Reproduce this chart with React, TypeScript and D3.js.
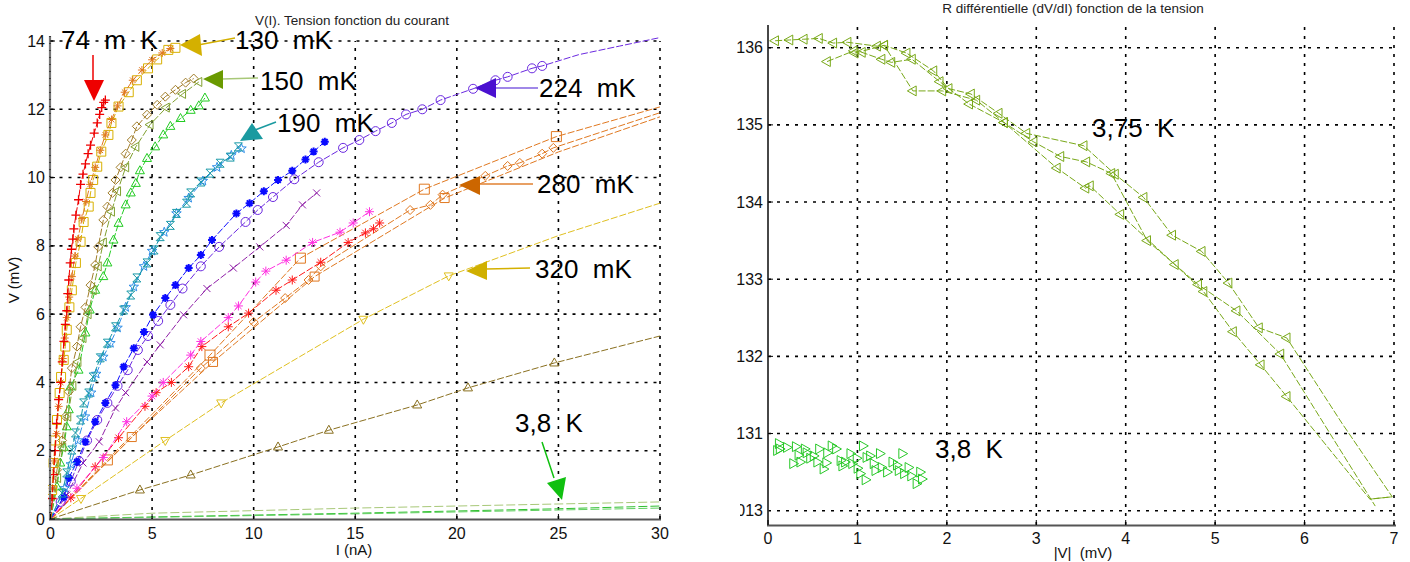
import React from 'react';
import * as d3 from 'd3';

type P = [number, number];

// ---------- LEFT CHART DATA : I (nA), V (mV) ----------
const xTicksL = [0, 5, 10, 15, 20, 25, 30];
const yTicksL = [0, 2, 4, 6, 8, 10, 12, 14];

const s74: P[] = [[0.08,0.6],[0.15,1.3],[0.22,2],[0.3,2.8],[0.4,3.5],[0.5,4],[0.58,4.6],[0.66,5.2],[0.73,5.7],[0.8,6.1],[0.85,6.6],[0.9,7],[0.97,7.5],[1.03,7.9],[1.1,8.2],[1.15,8.5],[1.25,8.9],[1.38,9.35],[1.48,9.8],[1.6,10.1],[1.72,10.4],[1.85,10.7],[1.97,10.95],[2.15,11.3],[2.3,11.6],[2.42,11.85],[2.52,12.05],[2.62,12.2],[2.7,12.27]];
const s130sq: P[] = [[0.08,0.85],[0.15,1.64],[0.23,2.3],[0.32,2.9],[0.45,3.69],[0.52,4.16],[0.65,4.66],[0.73,5.05],[0.8,5.54],[0.93,6.2],[1.05,6.7],[1.25,7.5],[1.48,8.12],[1.63,8.7],[1.88,9.15],[1.97,9.55],[2.1,9.93],[2.3,10.32],[2.5,10.76],[2.85,11.25],[3.0,11.6],[3.35,12.08],[3.85,12.5],[4.25,12.85],[4.8,13.2],[5.25,13.46],[5.8,13.74],[6.15,13.8]];
const s130st: P[] = [[0.1,0.9],[0.2,1.7],[0.3,2.5],[0.4,3.3],[0.5,4.0],[0.6,4.7],[0.7,5.3],[0.8,5.9],[0.92,6.5],[1.05,7.1],[1.2,7.7],[1.35,8.2],[1.55,8.8],[1.75,9.3],[1.95,9.8],[2.2,10.3],[2.45,10.8],[2.7,11.25],[3.0,11.7],[3.3,12.1],[3.65,12.5],[4.05,12.85],[4.5,13.15],[5.0,13.45],[5.5,13.65],[5.9,13.78]];
const s150dia: P[] = [[0.32,1.44],[0.57,2.3],[0.73,3.0],[0.9,3.73],[1.05,4.42],[1.3,5.05],[1.48,5.63],[1.72,6.2],[1.97,6.85],[2.2,7.44],[2.35,7.97],[2.6,8.76],[2.8,9.15],[3.05,9.55],[3.2,9.93],[3.45,10.3],[3.7,10.7],[4.0,11.1],[4.25,11.5],[4.75,11.84],[5.25,12.13],[5.65,12.37],[6.15,12.57],[6.65,12.78],[7.05,12.9]];
const s150tri: P[] = [[0.35,1.2],[0.6,2.1],[0.85,3.0],[1.1,3.9],[1.35,4.6],[1.6,5.3],[1.85,6.0],[2.1,6.7],[2.35,7.4],[2.6,8.1],[3.0,9.0],[3.3,9.6],[3.7,10.3],[4.2,10.9],[4.9,11.55],[5.7,12.05],[6.5,12.45],[7.3,12.8]];
const sGreen: P[] = [[0.32,0.94],[0.48,1.64],[0.65,2.1],[0.8,2.7],[0.9,3.2],[0.98,3.87],[1.38,4.36],[1.72,5.45],[1.93,6.12],[2.2,6.7],[2.6,7.1],[2.8,7.5],[3.1,8.17],[3.35,8.66],[3.7,9.2],[3.95,9.55],[4.2,9.83],[4.4,10.2],[4.75,10.56],[5.15,10.9],[5.55,11.25],[5.9,11.5],[6.4,11.73],[6.9,11.97],[7.3,12.1],[7.6,12.33]];
const s190teal: P[] = [[0.57,0.76],[0.8,1.35],[1.05,2.02],[1.23,2.52],[1.48,2.9],[1.63,3.4],[1.88,3.69],[2.1,4.16],[2.45,4.72],[2.8,5.15],[3.2,5.63],[3.6,6.12],[3.95,6.56],[4.25,7.06],[4.75,7.5],[5.1,7.88],[5.4,8.27],[5.9,8.6],[6.2,8.95],[6.7,9.25],[6.9,9.55],[7.4,9.87],[7.85,10.13],[8.35,10.42],[8.85,10.6],[9.25,10.9]];
const s190blue: P[] = [[0.7,0.9],[1.0,1.6],[1.35,2.3],[1.7,3.0],[2.0,3.7],[2.25,4.25],[2.6,4.75],[2.95,5.15],[3.3,5.6],[3.7,6.2],[4.1,6.8],[4.6,7.4],[5.0,7.85],[5.6,8.4],[6.2,8.95],[6.8,9.4],[7.5,9.9],[8.2,10.3],[8.9,10.65],[9.4,10.85]];
const sBlue: P[] = [[0.65,0.64],[0.9,1.2],[1.3,1.67],[1.72,2.26],[2.2,2.85],[2.7,3.4],[3.2,3.92],[3.6,4.46],[4.1,5.0],[4.6,5.48],[5.05,5.98],[5.65,6.47],[6.15,6.85],[6.8,7.35],[7.4,7.73],[7.95,8.17],[9.15,8.95],[9.8,9.25],[10.5,9.6],[11.2,9.93],[11.9,10.2],[12.55,10.53],[12.95,10.76],[13.5,11.05]];
const s224: P[] = [[0.5,0.5],[1.0,1.1],[1.4,1.7],[1.8,2.3],[2.3,2.9],[2.8,3.4],[3.3,3.9],[3.8,4.36],[4.3,4.95],[4.8,5.36],[5.3,5.8],[5.9,6.27],[6.5,6.75],[7.4,7.4],[8.3,7.97],[9.6,8.7],[10.2,9.05],[10.95,9.43],[12.0,9.95],[13.2,10.45],[14.4,10.87],[15.2,11.1],[16.0,11.36],[16.8,11.6],[17.5,11.85],[18.3,12.0],[19.2,12.27],[20.8,12.6],[21.9,12.85],[22.5,12.95],[23.7,13.2],[24.2,13.27]];
const s224tail: P[] = [[26,13.6],[28,13.85],[30,14.1]];
const sPurpleX: P[] = [[0.8,0.7],[1.6,1.64],[2.4,2.26],[3.2,3.25],[3.7,3.7],[4.75,4.6],[5.4,5.1],[6.55,5.98],[7.7,6.75],[9.0,7.35],[10.3,7.97],[11.6,8.6],[12.4,9.2],[13.1,9.55]];
const sMagenta: P[] = [[1.3,0.9],[2.6,1.8],[3.75,2.85],[5.0,3.6],[5.55,4.0],[6.9,4.8],[7.4,5.2],[8.75,5.9],[9.25,6.24],[10.1,6.94],[10.6,7.26],[11.6,7.58],[12.9,8.1],[14.25,8.4],[14.9,8.67],[15.7,9.0]];
const sRed: P[] = [[1.0,0.62],[2.2,1.53],[3.35,2.38],[4.65,3.3],[5.2,3.7],[5.95,4.0],[6.8,4.46],[7.45,5.05],[8.75,5.63],[9.75,6.03],[11.1,6.7],[11.9,7.0],[13.3,7.52],[14.65,8.1],[15.5,8.38],[15.9,8.5],[16.2,8.67]];
const s280a: P[] = [[2.8,1.73],[7.85,4.8],[12.3,7.64],[18.4,9.66],[24.9,11.2]];
const s280aTail: P[] = [[30,12.07]];
const s280b: P[] = [[7.4,4.42],[10,5.77],[11.55,6.47],[12.7,7.0],[13.3,7.4],[17.7,9.05],[18.7,9.2],[19.3,9.5],[21.4,10.05],[22.5,10.34],[23.1,10.43],[24.2,10.7],[24.75,10.87]];
const s280bTail: P[] = [[30,11.9]];
const s280c: P[] = [[4.0,2.4],[8.0,4.6],[13.0,7.1],[19.4,9.4]];
const s280cTail: P[] = [[25,10.75],[30,11.78]];
const s320: P[] = [[1.5,0.6],[5.65,2.3],[8.4,3.4],[15.4,5.85],[19.6,7.12]];
const s320tail: P[] = [[25,8.3],[30,9.25]];
const sOlive: P[] = [[4.4,0.85],[6.9,1.29],[11.2,2.11],[13.7,2.6],[18.05,3.34],[20.55,3.84],[24.8,4.57]];
const sOliveTail: P[] = [[30,5.36]];
const s38a: P[] = [[5,0.17],[15,0.32],[30,0.5]];
const s38b: P[] = [[5,0.06],[15,0.17],[25,0.3],[30,0.38]];
const s38c: P[] = [[15,0.15],[30,0.32]];

// ---------- RIGHT CHART DATA : |V| (mV), R (dV/dI) ----------
const xTicksR = [0, 1, 2, 3, 4, 5, 6, 7];
const yTicksR = [131, 132, 133, 134, 135, 136];
const sweepA: P[] = [[0.08,136.09],[0.24,136.10],[0.40,136.11],[0.57,136.12],[0.73,136.06],[0.89,136.07],[1.22,136.02],[1.30,136.03],[1.55,135.93],[1.85,135.70],[2.02,135.47],[2.27,135.40],[2.58,135.15],[2.89,134.89],[3.53,134.73],[3.88,134.36],[4.20,134.06],[4.52,133.57],[4.85,133.36],[5.15,132.95],[5.49,132.37],[5.80,132.24]];
const sweepAtail: P[] = [[6.42,131.13],[6.98,130.18],[6.73,130.15]];
const sweepB: P[] = [[0.66,135.82],[0.96,135.96],[1.05,135.94],[1.27,135.85],[1.38,135.81],[1.61,135.85],[1.92,135.56],[2.25,135.27],[2.64,135.03],[2.97,134.78],[3.27,134.59],[3.56,134.52],[3.84,134.37],[4.24,133.50],[4.81,132.93],[5.24,132.59],[5.73,132.03]];
const sweepBtail: P[] = [[6.79,130.06]];
const sweepC: P[] = [[0.97,135.93],[1.30,136.03],[1.62,135.44],[1.95,135.44],[2.33,135.32],[2.64,135.03],[3.23,134.44],[3.55,134.18],[3.60,134.21],[3.94,133.84],[4.55,133.19],[4.87,132.84],[5.20,132.32],[5.51,131.89],[5.80,131.48]];
const sweepCtail: P[] = [[6.73,130.15],[6.98,130.18]];
const cloud38: P[] = [[0.12,130.87],[0.13,130.80],[0.10,130.78],[0.21,130.82],[0.31,130.83],[0.28,130.61],[0.36,130.63],[0.41,130.80],[0.43,130.75],[0.51,130.71],[0.55,130.63],[0.62,130.54],[0.57,130.80],[0.66,130.75],[0.71,130.84],[0.76,130.80],[0.81,130.65],[0.86,130.63],[0.92,130.74],[0.94,130.61],[0.99,130.68],[1.03,130.48],[1.09,130.40],[1.06,130.84],[1.10,130.69],[1.14,130.71],[1.18,130.61],[1.25,130.74],[1.27,130.56],[1.33,130.50],[1.39,130.63],[1.44,130.59],[1.50,130.74],[1.52,130.48],[1.57,130.56],[1.60,130.45],[1.66,130.35],[1.70,130.50],[1.72,130.41],[0.47,130.68],[0.65,130.62],[0.83,130.58],[1.0,130.55],[1.2,130.52],[1.46,130.52],[0.34,130.72]];

// ---------- SCALES ----------
const xL = d3.scaleLinear().domain([0, 30]).range([50.5, 660]);
const yL = d3.scaleLinear().domain([0, 14]).range([519, 41]);
const xR = d3.scaleLinear().domain([0, 7]).range([768, 1394]);
const yR = d3.scaleLinear().domain([130, 136]).range([510.7, 47.7]);

const lineL = d3.line<P>().x(d => xL(d[0])).y(d => yL(d[1]));
const lineR = d3.line<P>().x(d => xR(d[0])).y(d => yR(d[1]));

function markerPath(shape: string, r: number): string {
  switch (shape) {
    case 'plus': return `M${-r},0H${r}M0,${-r}V${r}`;
    case 'x': return `M${-r},${-r}L${r},${r}M${-r},${r}L${r},${-r}`;
    case 'star': { const a = r * 0.7; return `M${-r},0H${r}M0,${-r}V${r}M${-a},${-a}L${a},${a}M${-a},${a}L${a},${-a}`; }
    case 'square': return `M${-r},${-r}H${r}V${r}H${-r}Z`;
    case 'diamond': return `M0,${-r}L${r},0L0,${r}L${-r},0Z`;
    case 'triUp': return `M0,${-r}L${r * 0.9},${r * 0.6}L${-r * 0.9},${r * 0.6}Z`;
    case 'triDown': return `M0,${r}L${r * 0.9},${-r * 0.6}L${-r * 0.9},${-r * 0.6}Z`;
    case 'triLeft': return `M${-r},0L${r * 0.6},${-r * 0.9}L${r * 0.6},${r * 0.9}Z`;
    case 'triRight': return `M${r},0L${-r * 0.6},${-r * 0.9}L${-r * 0.6},${r * 0.9}Z`;
    case 'hourglass': return `M${-r},${-r}H${r}L${-r},${r}H${r}Z`;
    case 'circle': return `M${r},0A${r},${r} 0 1,1 ${-r},0A${r},${r} 0 1,1 ${r},0`;
    case 'pentagram': {
      const pts: string[] = [];
      for (let i = 0; i < 10; i++) {
        const rr = i % 2 === 0 ? r : r * 0.42;
        const a = -Math.PI / 2 + (i * Math.PI) / 5;
        pts.push(`${(rr * Math.cos(a)).toFixed(2)},${(rr * Math.sin(a)).toFixed(2)}`);
      }
      return 'M' + pts.join('L') + 'Z';
    }
  }
  return '';
}

interface Cfg { pts: P[]; tail?: P[]; color: string; shape?: string; r?: number; sw?: number; dash?: string; lineColor?: string; origin?: boolean; }

const leftSeries: Cfg[] = [
  { pts: s38a, color: '#a8c878', origin: true, dash: '9,3' },
  { pts: s38b, color: '#30c030', origin: true, dash: '9,3' },
  { pts: s38c, color: '#60d060', origin: true, dash: '9,3' },
  { pts: sOlive, tail: sOliveTail, color: '#8a7020', shape: 'triUp', r: 5, origin: true },
  { pts: s320, tail: s320tail, color: '#e0c020', shape: 'triDown', r: 5, origin: true },
  { pts: s280c, tail: s280cTail, color: '#e07820', shape: 'square', r: 4.5, origin: true },
  { pts: s280b, tail: s280bTail, color: '#e07820', shape: 'diamond', r: 4.5, origin: true },
  { pts: s280a, tail: s280aTail, color: '#e07820', shape: 'square', r: 5, origin: true },
  { pts: sRed, color: '#ff1a1a', shape: 'star', r: 4.5, origin: true },
  { pts: sMagenta, color: '#ff30e0', shape: 'star', r: 4.5, origin: true },
  { pts: sPurpleX, color: '#9020a8', shape: 'x', r: 3.5, origin: true },
  { pts: s224, tail: s224tail, color: '#6a28e0', shape: 'circle', r: 4.5, origin: true },
  { pts: sBlue, color: '#0a0aff', shape: 'star', r: 4, sw: 2, origin: true },
  { pts: s190blue, color: '#2f8fe8', shape: 'pentagram', r: 5, origin: true },
  { pts: s190teal, color: '#1a9aa8', shape: 'hourglass', r: 4, origin: true },
  { pts: sGreen, color: '#22cc22', shape: 'triUp', r: 5, origin: true },
  { pts: s150tri, color: '#80a030', shape: 'triLeft', r: 5, origin: true },
  { pts: s150dia, color: '#a07c28', shape: 'diamond', r: 4.5, origin: true },
  { pts: s130sq, color: '#d8b000', shape: 'square', r: 4.5, origin: true },
  { pts: s130st, color: '#e07820', shape: 'star', r: 4, origin: true },
  { pts: s74, color: '#ee0000', shape: 'plus', r: 4.5, sw: 1.3, origin: true },
];

const rightSeries: Cfg[] = [
  { pts: sweepA, tail: sweepAtail, color: '#78a818', shape: 'triLeft', r: 5.5 },
  { pts: sweepB, tail: sweepBtail, color: '#78a818', shape: 'triLeft', r: 5.5 },
  { pts: sweepC, tail: sweepCtail, color: '#78a818', shape: 'triLeft', r: 5.5 },
];

const FONT = '"Liberation Sans", Arial, Helvetica, sans-serif';

function renderSeries(list: Cfg[], line: d3.Line<P>, xs: (v: number) => number, ys: (v: number) => number, key: string) {
  return list.map((s, i) => {
    const all: P[] = [...(s.origin ? [[0, 0] as P] : []), ...s.pts, ...(s.tail || [])];
    return (
      <g key={key + i}>
        <path d={line(all) || ''} fill="none" stroke={s.lineColor || s.color} strokeWidth={1} strokeDasharray={s.dash || '7,2'} />
        {s.shape && s.pts.map((p, j) => (
          <path key={j} transform={`translate(${xs(p[0])},${ys(p[1])})`} d={markerPath(s.shape!, s.r || 4)} fill="none" stroke={s.color} strokeWidth={s.sw || 1} />
        ))}
      </g>
    );
  });
}

const annotations = [
  { text: '74  m  K', x: 61, y: 49, color: '#ee0000', line: [93, 55, 93, 82], head: [[84, 80], [104, 80], [94, 101]], lineColor: '#ee0000' },
  { text: '130  mK', x: 235, y: 49, color: '#d4b000', line: [235, 38, 198, 45], head: [[180, 45], [200, 34], [202, 56]], lineColor: '#d4b000' },
  { text: '150  mK', x: 260, y: 90, color: '#6a9a00', line: [258, 78, 222, 79], head: [[203, 79], [223, 70], [223, 89]], lineColor: '#a8c878' },
  { text: '190  mK', x: 277, y: 132, color: '#1a9aa0', line: [276, 122, 255, 130], head: [[240, 141], [252, 123], [263, 139]], lineColor: '#1a9aa0' },
  { text: '224  mK', x: 539, y: 97, color: '#4a10d0', line: [538, 88, 494, 88], head: [[475, 88], [496, 78], [496, 98]], lineColor: '#8060e0' },
  { text: '280  mK', x: 537, y: 193, color: '#cc6600', line: [533, 184, 479, 184], head: [[459, 185], [480, 176], [480, 195]], lineColor: '#e08030' },
  { text: '320  mK', x: 535, y: 278, color: '#d0b000', line: [530, 268, 486, 269], head: [[466, 271], [487, 261], [487, 280]], lineColor: '#d4b000' },
  { text: '3,8  K', x: 515, y: 432, color: '#10c010', line: [542, 442, 554, 478], head: [[547, 483], [566, 477], [562, 500]], lineColor: '#10c010' },
];

export default function App() {
  const gridStyle = { stroke: '#000', strokeWidth: 1.6, strokeDasharray: '3,6' } as const;
  return (
    <svg width={1410} height={562} style={{ position: 'absolute', left: 0, top: 0, background: '#fff' }} fontFamily={FONT}>
      <defs>
        <clipPath id="clipL"><rect x={48} y={34} width={615} height={487} /></clipPath>
        <clipPath id="clipR"><rect x={766} y={22} width={640} height={504} /></clipPath>
        <clipPath id="clip013"><rect x={740} y={495} width={40} height={30} /></clipPath>
      </defs>
      <rect x={0} y={0} width={1410} height={562} fill="#fff" />

      {/* ================= LEFT CHART ================= */}
      <text x={352} y={25} fontSize={13.5} textAnchor="middle" fill="#222">V(I). Tension fonction du courant</text>
      {yTicksL.filter(v => v > 0).map(v => (
        <line key={'gy' + v} x1={xL(0)} x2={xL(30)} y1={yL(v)} y2={yL(v)} {...gridStyle} />
      ))}
      {xTicksL.filter(v => v > 0).map(v => (
        <line key={'gx' + v} x1={xL(v)} x2={xL(v)} y1={yL(0)} y2={yL(14)} {...gridStyle} />
      ))}
      <g clipPath="url(#clipL)">{renderSeries(leftSeries, lineL, xL, yL, 'L')}</g>
      <line x1={50} x2={50} y1={36} y2={520} stroke="#777" strokeWidth={2.2} />
      <line x1={50} x2={50} y1={36} y2={520} stroke="#000" strokeWidth={1} strokeDasharray="1,6" />
      <line x1={49} x2={661} y1={519.5} y2={519.5} stroke="#555" strokeWidth={1.8} />
      {xTicksL.map(v => (
        <g key={'tx' + v}>
          <line x1={xL(v)} x2={xL(v)} y1={519} y2={514} stroke="#000" />
          <text x={xL(v)} y={539} fontSize={16} textAnchor="middle" fill="#111">{v}</text>
        </g>
      ))}
      {yTicksL.map(v => (
        <g key={'ty' + v}>
          <line x1={50} x2={55} y1={yL(v)} y2={yL(v)} stroke="#000" />
          <text x={45} y={yL(v) + 5.5} fontSize={16} textAnchor="end" fill="#111">{v}</text>
        </g>
      ))}
      <text transform="translate(19,280) rotate(-90)" fontSize={15} textAnchor="middle" fill="#111">V (mV)</text>
      <text x={354} y={555} fontSize={15} textAnchor="middle" fill="#111">I (nA)</text>

      {annotations.map((a, i) => (
        <g key={'an' + i}>
          <line x1={a.line[0]} y1={a.line[1]} x2={a.line[2]} y2={a.line[3]} stroke={a.lineColor} strokeWidth={1.5} />
          <polygon points={a.head.map(p => p.join(',')).join(' ')} fill={a.color} />
          <text x={a.x} y={a.y} fontSize={26} fill="#000" style={{ whiteSpace: 'pre' }}>{a.text}</text>
        </g>
      ))}

      {/* ================= RIGHT CHART ================= */}
      <text x={1073} y={13} fontSize={13.5} textAnchor="middle" fill="#222">R différentielle (dV/dI) fonction de la tension</text>
      {[130, ...yTicksR].map(v => (
        <line key={'gry' + v} x1={xR(0)} x2={1398} y1={yR(v)} y2={yR(v)} {...gridStyle} />
      ))}
      {xTicksR.filter(v => v > 0).map(v => (
        <line key={'grx' + v} x1={xR(v)} x2={xR(v)} y1={525} y2={27} {...gridStyle} />
      ))}
      <g clipPath="url(#clipR)">
        {renderSeries(rightSeries, lineR, xR, yR, 'R')}
        {cloud38.map((p, j) => (
          <path key={'c' + j} transform={`translate(${xR(p[0])},${yR(p[1])})`} d={markerPath('triRight', 5.5)} fill="none" stroke="#28c828" strokeWidth={1} />
        ))}
      </g>
      <line x1={768} x2={768} y1={25} y2={526} stroke="#333" strokeWidth={1.8} />
      <line x1={767} x2={1396} y1={525.5} y2={525.5} stroke="#555" strokeWidth={1.8} />
      {xTicksR.map(v => (
        <g key={'trx' + v}>
          <line x1={xR(v)} x2={xR(v)} y1={525} y2={520} stroke="#000" />
          <text x={xR(v)} y={544} fontSize={16} textAnchor="middle" fill="#111">{v}</text>
        </g>
      ))}
      {yTicksR.map(v => (
        <g key={'try' + v}>
          <line x1={768} x2={773} y1={yR(v)} y2={yR(v)} stroke="#000" />
          <text x={763} y={yR(v) + 5.5} fontSize={16} textAnchor="end" fill="#111">{v}</text>
        </g>
      ))}
      <text x={763} y={yR(130) + 5.5} fontSize={16} textAnchor="end" fill="#111" clipPath="url(#clip013)">013</text>
      <text x={1083} y={558} fontSize={15} textAnchor="middle" fill="#111" style={{ whiteSpace: 'pre' }}>|V|  (mV)</text>
      <text x={1092} y={137} fontSize={26} fill="#000" style={{ whiteSpace: 'pre' }}>3,75  K</text>
      <text x={935} y={458} fontSize={26} fill="#000" style={{ whiteSpace: 'pre' }}>3,8  K</text>
    </svg>
  );
}
